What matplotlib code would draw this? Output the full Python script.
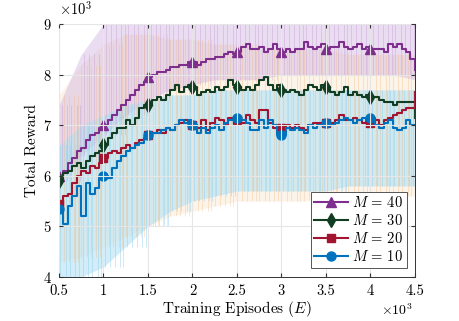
import matplotlib
matplotlib.use("Agg")
import matplotlib.pyplot as plt
import numpy as np

# episodes in units of 10^3, one step every 50 episodes
episodes = np.arange(0.5, 4.5001, 0.05)

reward_m40 = [6.0, 6.1, 6.25, 6.35, 6.5, 6.55, 6.7, 6.8, 6.85, 6.95,
              7.0, 7.1, 7.2, 7.3, 7.4, 7.5, 7.6, 7.7, 7.8, 7.85,
              7.95, 8.0, 8.05, 8.05, 8.1, 8.15, 8.15, 8.2, 8.2, 8.25,
              8.25, 8.2, 8.25, 8.3, 8.3, 8.35, 8.35, 8.4, 8.45, 8.4,
              8.45, 8.55, 8.6, 8.5, 8.5, 8.55, 8.45, 8.5, 8.6, 8.5,
              8.45, 8.5, 8.45, 8.5, 8.5, 8.65, 8.55, 8.5, 8.55, 8.6,
              8.5, 8.55, 8.55, 8.65, 8.55, 8.5, 8.55, 8.6, 8.5, 8.55,
              8.5, 8.5, 8.5, 8.45, 8.6, 8.55, 8.6, 8.5, 8.45, 8.3, 8.1]

reward_m30 = [5.9, 6.05, 6.1, 6.2, 6.25, 6.15, 6.3, 6.4, 6.45, 6.5,
              6.6, 6.75, 6.85, 6.95, 6.95, 7.1, 7.0, 7.15, 7.35, 7.4,
              7.4, 7.5, 7.55, 7.5, 7.6, 7.7, 7.8, 7.65, 7.75, 7.8,
              7.75, 7.6, 7.65, 7.7, 7.65, 7.75, 7.7, 7.75, 7.9, 7.8,
              7.75, 7.7, 7.75, 7.7, 7.8, 7.9, 7.95, 7.8, 7.7, 7.8,
              7.7, 7.65, 7.7, 7.65, 7.6, 7.7, 7.8, 7.75, 7.7, 7.8,
              7.75, 7.65, 7.6, 7.65, 7.75, 7.6, 7.65, 7.6, 7.55, 7.6,
              7.55, 7.55, 7.5, 7.45, 7.45, 7.4, 7.45, 7.45, 7.45, 7.45, 7.15]

reward_m20 = [5.45, 5.6, 5.65, 5.85, 6.0, 6.1, 6.05, 6.2, 6.15, 6.25,
              6.35, 6.45, 6.5, 6.45, 6.55, 6.6, 6.55, 6.65, 6.7, 6.75,
              6.8, 6.85, 6.9, 6.85, 6.95, 6.9, 7.0, 7.05, 7.1, 7.05,
              7.0, 6.95, 7.1, 6.9, 7.05, 7.15, 7.1, 7.0, 7.15, 7.1,
              7.1, 7.05, 7.2, 7.1, 7.05, 7.3, 7.3, 7.05, 6.95, 6.95,
              6.95, 7.0, 6.95, 7.0, 6.95, 6.9, 7.0, 7.05, 7.05, 7.05,
              7.05, 7.05, 7.1, 7.2, 7.1, 7.1, 7.15, 7.1, 7.05, 7.1,
              7.05, 7.1, 7.0, 7.1, 7.15, 7.2, 7.25, 7.3, 7.35, 7.35, 7.65]

reward_m10 = [5.35, 5.05, 5.4, 5.6, 5.8, 5.2, 5.85, 5.65, 5.75, 5.95,
              6.0, 5.95, 6.15, 6.3, 6.4, 6.5, 6.55, 6.6, 6.65, 6.75,
              6.8, 6.85, 6.85, 6.9, 6.95, 6.9, 7.0, 7.1, 7.05, 7.1,
              7.0, 6.85, 6.95, 6.85, 6.95, 7.0, 6.9, 7.05, 7.1, 7.1,
              7.15, 7.1, 7.05, 6.9, 6.9, 7.1, 6.95, 7.1, 7.0, 6.8,
              6.8, 6.95, 6.9, 6.95, 6.9, 6.85, 7.0, 6.95, 7.0, 7.0,
              7.05, 7.0, 7.05, 7.1, 7.15, 7.1, 7.05, 7.1, 7.15, 7.1,
              7.15, 7.0, 6.95, 7.05, 7.1, 6.95, 6.9, 6.95, 7.1, 7.0, 7.0]

# raw-episode spread, read every 250 episodes (0.5 ... 4.5)
band_x = np.arange(0.5, 4.5001, 0.25)
orange_lo = [4.3, 4.4, 4.6, 4.8, 5.0, 5.2, 5.3, 5.4, 5.5, 5.5, 5.5, 5.5, 5.6, 5.6, 5.6, 5.6, 5.6]
orange_hi = [7.6, 8.2, 8.6, 8.8, 8.8, 8.7, 8.7, 8.6, 8.6, 8.5, 8.5, 8.5, 8.5, 8.4, 8.4, 8.4, 8.4]
blue_lo = [4.0, 4.0, 4.2, 4.6, 5.0, 5.3, 5.5, 5.6, 5.7, 5.7, 5.7, 5.7, 5.7, 5.8, 5.8, 5.8, 5.8]
blue_hi = [6.6, 7.0, 7.2, 7.4, 7.5, 7.6, 7.6, 7.7, 7.7, 7.7, 7.7, 7.7, 7.7, 7.7, 7.7, 7.7, 7.7]
violet_lo = [5.9, 6.4, 6.8, 7.2, 7.5, 7.7, 7.8, 7.9, 7.9, 7.9, 8.0, 8.0, 8.0, 8.0, 8.0, 8.0, 7.9]
violet_hi = [7.4, 8.4, 9.0, 9.0, 9.0, 9.0, 9.0, 9.0, 9.0, 9.0, 9.0, 9.0, 9.0, 9.0, 9.0, 9.0, 9.0]

plt.rcParams['font.family'] = 'serif'
plt.rcParams['font.serif'] = ['cmr10', 'DejaVu Serif']
plt.rcParams['mathtext.fontset'] = 'cm'
plt.rcParams['axes.formatter.use_mathtext'] = True

fig = plt.figure(figsize=(4.59, 3.21), dpi=100)
ax = fig.add_axes([0.1285, 0.137, 0.7755, 0.788])

# raw data clouds: light fill plus thin streaks
ax.fill_between(band_x, orange_lo, orange_hi, color='#f6d3a8', alpha=0.25, lw=0)
ax.fill_between(band_x, violet_lo, violet_hi, color='#d2b3e2', alpha=0.45, lw=0)
ax.fill_between(band_x, blue_lo, blue_hi, color='#b5e1f2', alpha=0.6, lw=0)
for k, off in enumerate([0.0, 0.06, 0.11, 0.17, 0.21]):
    ax.vlines(band_x + off, orange_lo, orange_hi, color='#efb477', alpha=0.35, lw=0.6)
    ax.vlines(band_x + off + 0.03, violet_lo, violet_hi, color='#b88acc', alpha=0.35, lw=0.6)
    ax.vlines(band_x + off + 0.015, blue_lo, blue_hi, color='#8fcfee', alpha=0.45, lw=0.7)

series = [
    (reward_m40, '#7e2f8e', '^', 6.5, r'$M\,=\,40$'),
    (reward_m30, '#113d22', 'd', 7, r'$M\,=\,30$'),
    (reward_m20, '#a2142f', 's', 5.5, r'$M\,=\,20$'),
    (reward_m10, '#0072bd', 'o', 6.5, r'$M\,=\,10$'),
]
for vals, col, mk, ms, lab in series:
    ax.step(episodes, vals, where='post', color=col, lw=1.5)
    ax.plot(episodes[:-1:10], vals[:-1:10], ls='none', marker=mk, ms=ms, color=col)
    ax.plot([], [], color=col, lw=1.5, marker=mk, ms=ms, label=lab)

ax.set_xlim(0.5, 4.5)
ax.set_ylim(4, 9)
ax.set_xticks(np.arange(0.5, 4.51, 0.5))
ax.set_xticklabels(['0.5', '1', '1.5', '2', '2.5', '3', '3.5', '4', '4.5'])
ax.set_yticks(np.arange(4, 9.1, 1))
ax.grid(True, color='#e6e6e6', lw=0.8)
ax.set_axisbelow(False)
ax.tick_params(direction='in', top=True, right=True, labelsize=10.5, length=3, color='#333333')
ax.tick_params(axis='x', pad=5)
ax.tick_params(axis='y', pad=5)
for sp in ax.spines.values():
    sp.set_color('#333333')
    sp.set_linewidth(0.7)

ax.set_xlabel(r'Training Episodes $(E)$', fontsize=11, labelpad=1)
ax.set_ylabel('Total Reward', fontsize=11, labelpad=3)
fig.text(0.128, 0.945, r'$\times10^3$', fontsize=10.5, ha='left', va='bottom')
fig.text(0.9, 0.008, r'$\times10^3$', fontsize=10, ha='right', va='bottom')

leg = ax.legend(loc='lower right', bbox_to_anchor=(0.985, 0.025), fontsize=10.5,
                fancybox=False, framealpha=1, edgecolor='#555555',
                handlelength=2.3, handletextpad=0.3, borderpad=0.25, labelspacing=0.2,
                borderaxespad=0.2)
leg.get_frame().set_linewidth(0.7)

fig.savefig('out.png', dpi=100)
